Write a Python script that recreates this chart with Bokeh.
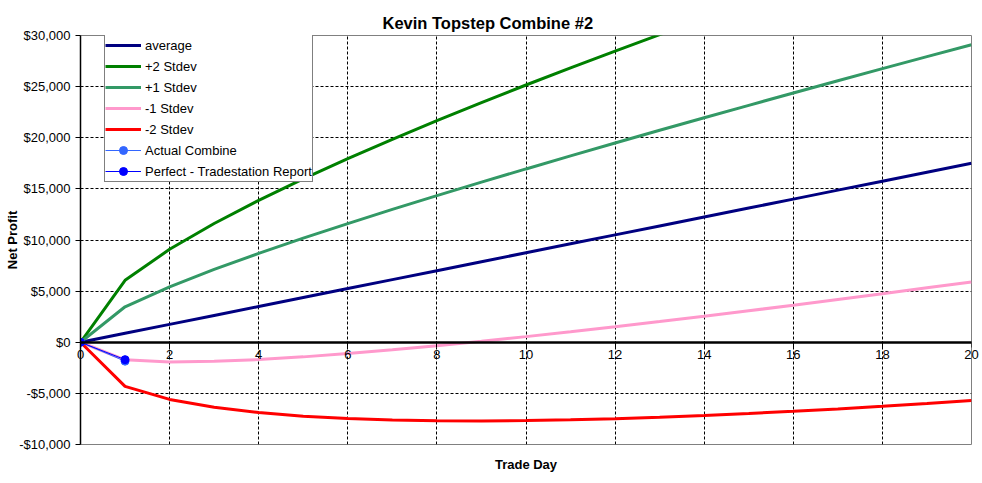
from bokeh.plotting import figure
from bokeh.models import (Range1d, FixedTicker, CustomJSTickFormatter, Legend, LegendItem,
                          LinearAxis)
from bokeh.embed import file_html
from bokeh.resources import INLINE

# ---------------- data ----------------
title_text = "Kevin Topstep Combine #2"
x_title = "Trade Day"
y_title = "Net Profit"

days = [0, 1, 2, 3, 4, 5, 6, 7, 8, 9, 10, 11, 12, 13, 14, 15, 16, 17, 18, 19, 20]
average = [0, 875, 1750, 2625, 3500, 4375, 5250, 6125, 7000, 7875, 8750, 9625,
           10500, 11375, 12250, 13125, 14000, 14875, 15750, 16625, 17500]
plus2 = [0, 6060, 9090, 11610, 13880, 15980, 17960, 19850, 21670, 23440, 25160,
         26830, 28470, 30080, 31660]
plus1 = [0, 3470, 5420, 7120, 8690, 10180, 11600, 12990, 14340, 15660, 16950, 18230,
         19490, 20730, 21960, 23170, 24380, 25570, 26760, 27930, 29100]
minus1 = [0, -1720, -1920, -1870, -1690, -1430, -1100, -740, -340, 90, 550, 1020,
          1510, 2020, 2540, 3080, 3620, 4180, 4740, 5320, 5900]
minus2 = [0, -4310, -5590, -6360, -6880, -7230, -7460, -7600, -7670, -7690, -7660,
          -7580, -7470, -7330, -7160, -6970, -6750, -6520, -6260, -5990, -5700]
actual_days = [0, 1]
actual = [0, -1850]
perfect_days = [0, 1]
perfect = [0, -1700]

series_names = ["average", "+2 Stdev", "+1 Stdev", "-1 Stdev", "-2 Stdev",
                "Actual Combine", "Perfect - Tradestation Report"]

x_ticks = [0, 2, 4, 6, 8, 10, 12, 14, 16, 18, 20]
y_ticks = [-10000, -5000, 0, 5000, 10000, 15000, 20000, 25000, 30000]
x_grid = [2, 4, 6, 8, 10, 12, 14, 16, 18]
y_grid = [-5000, 5000, 10000, 15000, 20000, 25000]

FONT = "Liberation Sans"

# ---------------- figure ----------------
p = figure(width=980, height=483, output_backend="svg", toolbar_location=None,
           x_range=Range1d(0, 20), y_range=Range1d(-10000, 30000),
           min_border_left=80, min_border_right=9, min_border_top=35, min_border_bottom=39)
p.background_fill_color = "white"
p.border_fill_color = "white"
p.outline_line_color = "#808080"
p.outline_line_width = 1

# title
p.title.text = title_text
p.title.align = "left"
p.title.offset = 302
p.title.vertical_align = "top"
p.title.standoff = 4
p.title.text_font = FONT
p.title.text_font_size = "16.5px"
p.title.text_font_style = "bold"
p.title.text_color = "black"

# grid
p.xgrid.ticker = FixedTicker(ticks=x_grid)
p.ygrid.ticker = FixedTicker(ticks=y_grid)
for g in (p.xgrid, p.ygrid):
    g.grid_line_color = "black"
    g.grid_line_dash = "3 2"
    g.grid_line_width = 1

# x axis line + ticks at y = 0 (labels drawn by a second axis)
xa = p.xaxis[0]
xa.fixed_location = 0
xa.ticker = FixedTicker(ticks=x_ticks)
xa.formatter = CustomJSTickFormatter(code="return '';")
xa.axis_line_color = "black"
xa.axis_line_width = 2.5
xa.major_tick_line_color = "black"
xa.major_tick_in = 1
xa.major_tick_out = 5
xa.minor_tick_line_color = None
xa.major_label_standoff = 0

# second x axis carrying the tick labels (lifted up next to the zero line) and the title
xb = LinearAxis(ticker=FixedTicker(ticks=x_ticks))
xb.axis_line_color = None
xb.major_tick_line_color = None
xb.minor_tick_line_color = None
xb.major_tick_in = 0
xb.major_tick_out = 0
xb.major_label_standoff = -95
xb.major_label_text_font = FONT
xb.major_label_text_font_size = "13px"
xb.major_label_text_color = "black"
xb.axis_label = x_title
xb.axis_label_standoff = 95
xb.axis_label_text_font = FONT
xb.axis_label_text_font_size = "13px"
xb.axis_label_text_font_style = "bold"
xb.axis_label_text_color = "black"
p.add_layout(xb, "below")

# y axis
ya = p.yaxis[0]
ya.ticker = FixedTicker(ticks=y_ticks)
ya.formatter = CustomJSTickFormatter(code="""
    return (tick < 0 ? '-' : '') + '$' + Math.abs(tick).toLocaleString('en-US');
""")
ya.axis_line_color = "black"
ya.axis_line_width = 1.5
ya.major_tick_line_color = "black"
ya.major_tick_in = 0
ya.major_tick_out = 5
ya.minor_tick_line_color = None
ya.major_label_standoff = 5
ya.major_label_text_font = FONT
ya.major_label_text_font_size = "13px"
ya.major_label_text_color = "black"
ya.axis_label = y_title
ya.axis_label_standoff = -4
ya.axis_label_text_font = FONT
ya.axis_label_text_font_size = "13px"
ya.axis_label_text_font_style = "bold"
ya.axis_label_text_color = "black"

# ---------------- series ----------------
r_avg = p.line(days, average, line_color="#000080", line_width=3)
r_p2 = p.line(days[:len(plus2)], plus2, line_color="#008000", line_width=3)
r_p1 = p.line(days, plus1, line_color="#339966", line_width=3)
r_m1 = p.line(days, minus1, line_color="#FF99CC", line_width=3)
r_m2 = p.line(days, minus2, line_color="#FF0000", line_width=3)
r_act_l = p.line(actual_days, actual, line_color="#3366FF", line_width=1)
r_act_m = p.scatter(actual_days, actual, marker="circle", size=8,
                    fill_color="#3366FF", line_color="#3366FF")
r_per_l = p.line(perfect_days, perfect, line_color="#0000FF", line_width=1)
r_per_m = p.scatter(perfect_days, perfect, marker="circle", size=8,
                    fill_color="#0000FF", line_color="#0000FF")

legend = Legend(items=[
    LegendItem(label=series_names[0], renderers=[r_avg]),
    LegendItem(label=series_names[1], renderers=[r_p2]),
    LegendItem(label=series_names[2], renderers=[r_p1]),
    LegendItem(label=series_names[3], renderers=[r_m1]),
    LegendItem(label=series_names[4], renderers=[r_m2]),
    LegendItem(label=series_names[5], renderers=[r_act_l, r_act_m]),
    LegendItem(label=series_names[6], renderers=[r_per_l, r_per_m]),
], location=(24, 262))
legend.margin = 0
legend.padding = 0
legend.spacing = 1
legend.glyph_width = 36
legend.glyph_height = 20
legend.label_height = 20
legend.label_standoff = 4
legend.label_text_font = FONT
legend.label_text_font_size = "13px"
legend.label_text_color = "black"
legend.border_line_color = "black"
legend.border_line_width = 1
legend.background_fill_color = "white"
legend.background_fill_alpha = 1
p.add_layout(legend, "center")

open("out.html", "w").write(file_html(p, INLINE))
